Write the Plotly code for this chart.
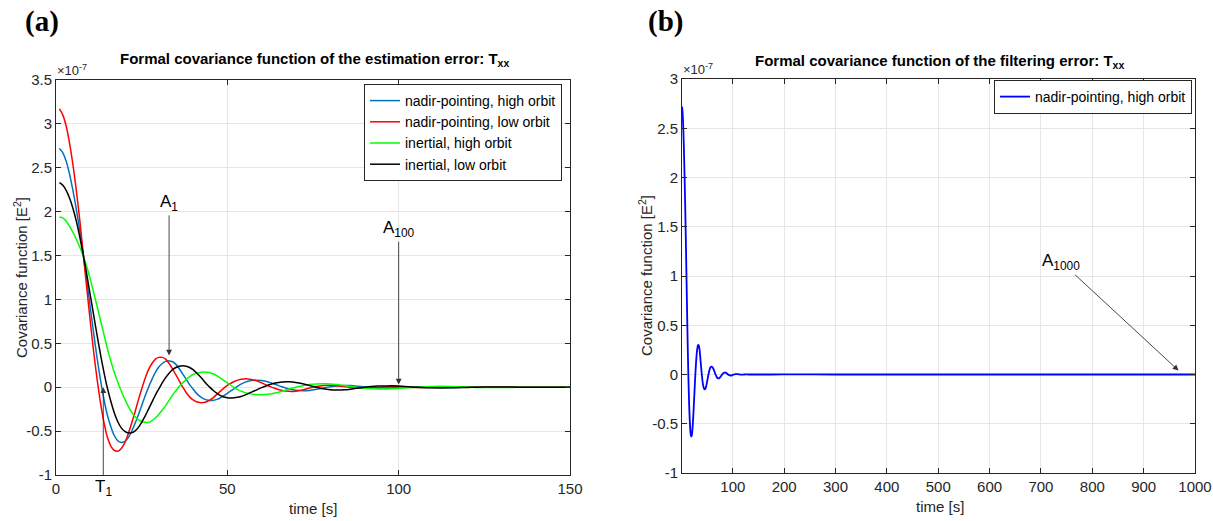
import plotly.graph_objects as go

# ---------------- data (values in units of 1e-7 E^2) ----------------
T_LEFT = list(range(1, 49)) + list(range(50, 101, 2)) + list(range(105, 151, 5))

NADIR_HIGH = [
    2.72, 2.67, 2.57, 2.42, 2.23, 2.01, 1.77, 1.50, 1.21, 0.91,
    0.61, 0.33, 0.08, -0.14, -0.32, -0.45, -0.55, -0.61, -0.63, -0.62,
    -0.58, -0.51, -0.42, -0.32, -0.21, -0.10, 0.00, 0.09, 0.17, 0.23,
    0.27, 0.295, 0.30, 0.29, 0.26, 0.21, 0.15, 0.09, 0.03, -0.02,
    -0.07, -0.105, -0.13, -0.145, -0.15, -0.148, -0.138, -0.12,
    -0.07, -0.015, 0.035, 0.068, 0.08, 0.077, 0.06, 0.033, 0.005, -0.02,
    -0.035, -0.04, -0.036, -0.024, -0.009, 0.005, 0.015, 0.02, 0.019, 0.012,
    0.003, -0.004, -0.009, -0.01, -0.008, -0.004,
    0.004, 0.003, -0.002, -0.001, 0.001, 0.0, 0.0, 0.0, 0.0, 0.0,
]

NADIR_LOW = [
    3.17, 3.10, 2.97, 2.77, 2.52, 2.22, 1.88, 1.50, 1.12, 0.75,
    0.40, 0.09, -0.18, -0.40, -0.57, -0.67, -0.72, -0.73, -0.70, -0.64,
    -0.54, -0.42, -0.29, -0.15, -0.02, 0.10, 0.20, 0.27, 0.32, 0.34,
    0.34, 0.32, 0.27, 0.21, 0.14, 0.07, 0.00, -0.06, -0.11, -0.145,
    -0.165, -0.175, -0.175, -0.165, -0.145, -0.115, -0.08, -0.045,
    0.02, 0.065, 0.09, 0.095, 0.08, 0.05, 0.015, -0.015, -0.037, -0.047,
    -0.045, -0.03, -0.01, 0.008, 0.02, 0.023, 0.018, 0.008, -0.003, -0.01,
    -0.012, -0.008, -0.002, 0.003, 0.006, 0.005,
    -0.003, -0.002, 0.002, 0.001, -0.001, 0.0, 0.0, 0.0, 0.0, 0.0,
]

INERTIAL_HIGH = [
    1.94, 1.93, 1.89, 1.83, 1.76, 1.68, 1.59, 1.49, 1.37, 1.23,
    1.08, 0.92, 0.76, 0.60, 0.44, 0.30, 0.17, 0.06, -0.04, -0.13,
    -0.21, -0.28, -0.33, -0.37, -0.39, -0.40, -0.40, -0.38, -0.35, -0.31,
    -0.26, -0.21, -0.15, -0.09, -0.04, 0.01, 0.05, 0.09, 0.12, 0.145,
    0.16, 0.168, 0.172, 0.17, 0.165, 0.15, 0.13, 0.105,
    0.05, -0.005, -0.045, -0.07, -0.082, -0.085, -0.08, -0.065, -0.045, -0.02,
    0.0, 0.018, 0.03, 0.038, 0.04, 0.038, 0.03, 0.02, 0.008, -0.004,
    -0.012, -0.018, -0.02, -0.02, -0.017, -0.012,
    0.0, 0.009, 0.009, 0.003, -0.003, -0.004, -0.001, 0.001, 0.0, 0.0,
]

INERTIAL_LOW = [
    2.33, 2.30, 2.24, 2.15, 2.03, 1.88, 1.70, 1.50, 1.28, 1.05,
    0.82, 0.59, 0.37, 0.17, -0.01, -0.16, -0.29, -0.39, -0.46, -0.50,
    -0.52, -0.52, -0.50, -0.46, -0.40, -0.33, -0.25, -0.17, -0.09, -0.02,
    0.05, 0.11, 0.16, 0.20, 0.225, 0.24, 0.245, 0.24, 0.225, 0.20,
    0.165, 0.125, 0.08, 0.035, -0.005, -0.04, -0.07, -0.095,
    -0.12, -0.12, -0.105, -0.075, -0.04, -0.005, 0.025, 0.048, 0.06, 0.062,
    0.055, 0.04, 0.02, 0.0, -0.017, -0.028, -0.032, -0.03, -0.022, -0.01,
    0.0, 0.008, 0.013, 0.015, 0.016, 0.013,
    0.001, -0.007, -0.007, -0.002, 0.003, 0.003, 0.001, 0.0, 0.0, 0.0,
]

# filtering error (right panel): same nadir-pointing high-orbit run, longer lag range
FILTER_T_TAIL = [175, 200, 300, 400, 500, 600, 700, 800, 900, 1000]
FILTER_V_TAIL = [0.0, 0.001, 0.0, 0.0, 0.0, 0.0, 0.0, 0.0, 0.0, 0.0]
T_RIGHT = T_LEFT + FILTER_T_TAIL
FILTER_V = NADIR_HIGH + FILTER_V_TAIL

SERIES = [
    ("nadir-pointing, high orbit", NADIR_HIGH, "#0072BD"),
    ("nadir-pointing, low orbit", NADIR_LOW, "#FF0000"),
    ("inertial, high orbit", INERTIAL_HIGH, "#00FF00"),
    ("inertial, low orbit", INERTIAL_LOW, "#000000"),
]

LEFT_YTICKS = [-1, -0.5, 0, 0.5, 1, 1.5, 2, 2.5, 3, 3.5]
LEFT_YTEXT = ["-1", "-0.5", "0", "0.5", "1", "1.5", "2", "2.5", "3", "3.5"]
RIGHT_YTICKS = [-1, -0.5, 0, 0.5, 1, 1.5, 2, 2.5, 3]
RIGHT_YTEXT = ["-1", "-0.5", "0", "0.5", "1", "1.5", "2", "2.5", "3"]
LEFT_XTICKS = [0, 50, 100, 150]
RIGHT_XTICKS = [100, 200, 300, 400, 500, 600, 700, 800, 900, 1000]

# ---------------- figure ----------------
W, H = 1213, 521
FONT = "Liberation Sans, Arial, sans-serif"
AX = "#262626"

fig = go.Figure()
for name, vals, col in SERIES:
    fig.add_trace(go.Scatter(
        x=T_LEFT, y=vals, name=name, mode="lines",
        line=dict(color=col, width=1.5, shape="spline", smoothing=0.8),
        xaxis="x", yaxis="y", legend="legend"))

fig.add_trace(go.Scatter(
    x=T_RIGHT, y=FILTER_V, name="nadir-pointing, high orbit", mode="lines",
    line=dict(color="#0000FF", width=1.8, shape="spline", smoothing=0.8),
    xaxis="x2", yaxis="y2", legend="legend2"))


def px_x(p):
    return p / W


def px_y(p):
    return 1 - p / H


axis_common = dict(
    showline=True, linecolor=AX, linewidth=1, mirror="ticks",
    ticks="inside", ticklen=5, tickcolor=AX, automargin=False,
    showgrid=True, gridcolor="#E6E6E6", gridwidth=1, zeroline=False,
    tickfont=dict(family=FONT, size=15, color=AX),
)
title_font = dict(family=FONT, size=15, color=AX)

fig.update_layout(
    width=W, height=H,
    margin=dict(l=0, r=0, t=0, b=0),
    paper_bgcolor="white", plot_bgcolor="white",
    font=dict(family=FONT, color=AX),
    xaxis=dict(domain=[px_x(56), px_x(570)], range=[0, 150], tickvals=LEFT_XTICKS,
               anchor="y", **axis_common),
    yaxis=dict(domain=[px_y(475), px_y(80)], range=[-1, 3.5], tickvals=LEFT_YTICKS,
               ticktext=LEFT_YTEXT, anchor="x", **axis_common),
    xaxis2=dict(domain=[px_x(682), px_x(1195)], range=[1, 1000], tickvals=RIGHT_XTICKS,
                anchor="y2", **axis_common),
    yaxis2=dict(domain=[px_y(473), px_y(79)], range=[-1, 3], tickvals=RIGHT_YTICKS,
                ticktext=RIGHT_YTEXT, anchor="x2", **axis_common),
    legend=dict(x=px_x(364), y=px_y(84), xanchor="left", yanchor="top",
                bgcolor="white", bordercolor=AX, borderwidth=1,
                font=dict(family=FONT, size=14, color="black"), tracegroupgap=0),
    legend2=dict(x=px_x(1192), y=px_y(80), xanchor="right", yanchor="top",
                 bgcolor="white", bordercolor=AX, borderwidth=1,
                 font=dict(family=FONT, size=14, color="black")),
    showlegend=True,
)

annots = [
    # panel labels
    dict(text="<b>(a)</b>", x=px_x(23), y=px_y(22), xanchor="left", yanchor="middle",
         font=dict(family="Liberation Serif, Times New Roman, serif", size=29, color="black")),
    dict(text="<b>(b)</b>", x=px_x(646), y=px_y(22), xanchor="left", yanchor="middle",
         font=dict(family="Liberation Serif, Times New Roman, serif", size=29, color="black")),
    # titles
    dict(text="<b>Formal covariance function of the estimation error: T<sub>xx</sub></b>",
         x=px_x(314), y=px_y(60), xanchor="center", yanchor="middle",
         font=dict(family=FONT, size=15, color="black")),
    dict(text="<b>Formal covariance function of the filtering error: T<sub>xx</sub></b>",
         x=px_x(940), y=px_y(61), xanchor="center", yanchor="middle",
         font=dict(family=FONT, size=15, color="black")),
    # exponent labels
    dict(text="×10<sup>-7</sup>", x=px_x(55), y=px_y(80), xanchor="left", yanchor="bottom",
         font=dict(family=FONT, size=13, color=AX)),
    dict(text="×10<sup>-7</sup>", x=px_x(681), y=px_y(79), xanchor="left", yanchor="bottom",
         font=dict(family=FONT, size=13, color=AX)),
    # axis titles
    dict(text="time [s]", x=px_x(313), y=px_y(508), xanchor="center", yanchor="middle",
         font=title_font),
    dict(text="time [s]", x=px_x(940), y=px_y(506), xanchor="center", yanchor="middle",
         font=title_font),
    dict(text="Covariance function [E<sup>2</sup>]", x=px_x(20), y=px_y(278), textangle=-90,
         xanchor="center", yanchor="middle", font=title_font),
    dict(text="Covariance function [E<sup>2</sup>]", x=px_x(645), y=px_y(276), textangle=-90,
         xanchor="center", yanchor="middle", font=title_font),
]
for a in annots:
    a.update(xref="paper", yref="paper", showarrow=False)
    fig.add_annotation(**a)

arrow_style = dict(showarrow=True, arrowhead=2, arrowsize=1.3, arrowwidth=0.9,
                   arrowcolor="#333333", standoff=0,
                   font=dict(family=FONT, size=17, color="black"))

# A1, A100, T1 on the left panel
fig.add_annotation(text="A<sub>1</sub>", x=33, y=0.36, ax=33, ay=2.1,
                   xref="x", yref="y", axref="x", ayref="y", **arrow_style)
fig.add_annotation(text="A<sub>100</sub>", x=100, y=0.03, ax=100, ay=1.8,
                   xref="x", yref="y", axref="x", ayref="y", **arrow_style)
fig.add_annotation(text="T<sub>1</sub>", x=13.8, y=0.0, ax=13.8, ay=-1.15,
                   xref="x", yref="y", axref="x", ayref="y", **arrow_style)
# A1000 on the right panel
fig.add_annotation(text="A<sub>1000</sub>", x=968, y=0.04, ax=740, ay=1.14,
                   xref="x2", yref="y2", axref="x2", ayref="y2", **arrow_style)

fig.write_html("out.html", config={"displayModeBar": False},
               post_script="document.body.style.margin='0';document.body.style.overflow='hidden';")
